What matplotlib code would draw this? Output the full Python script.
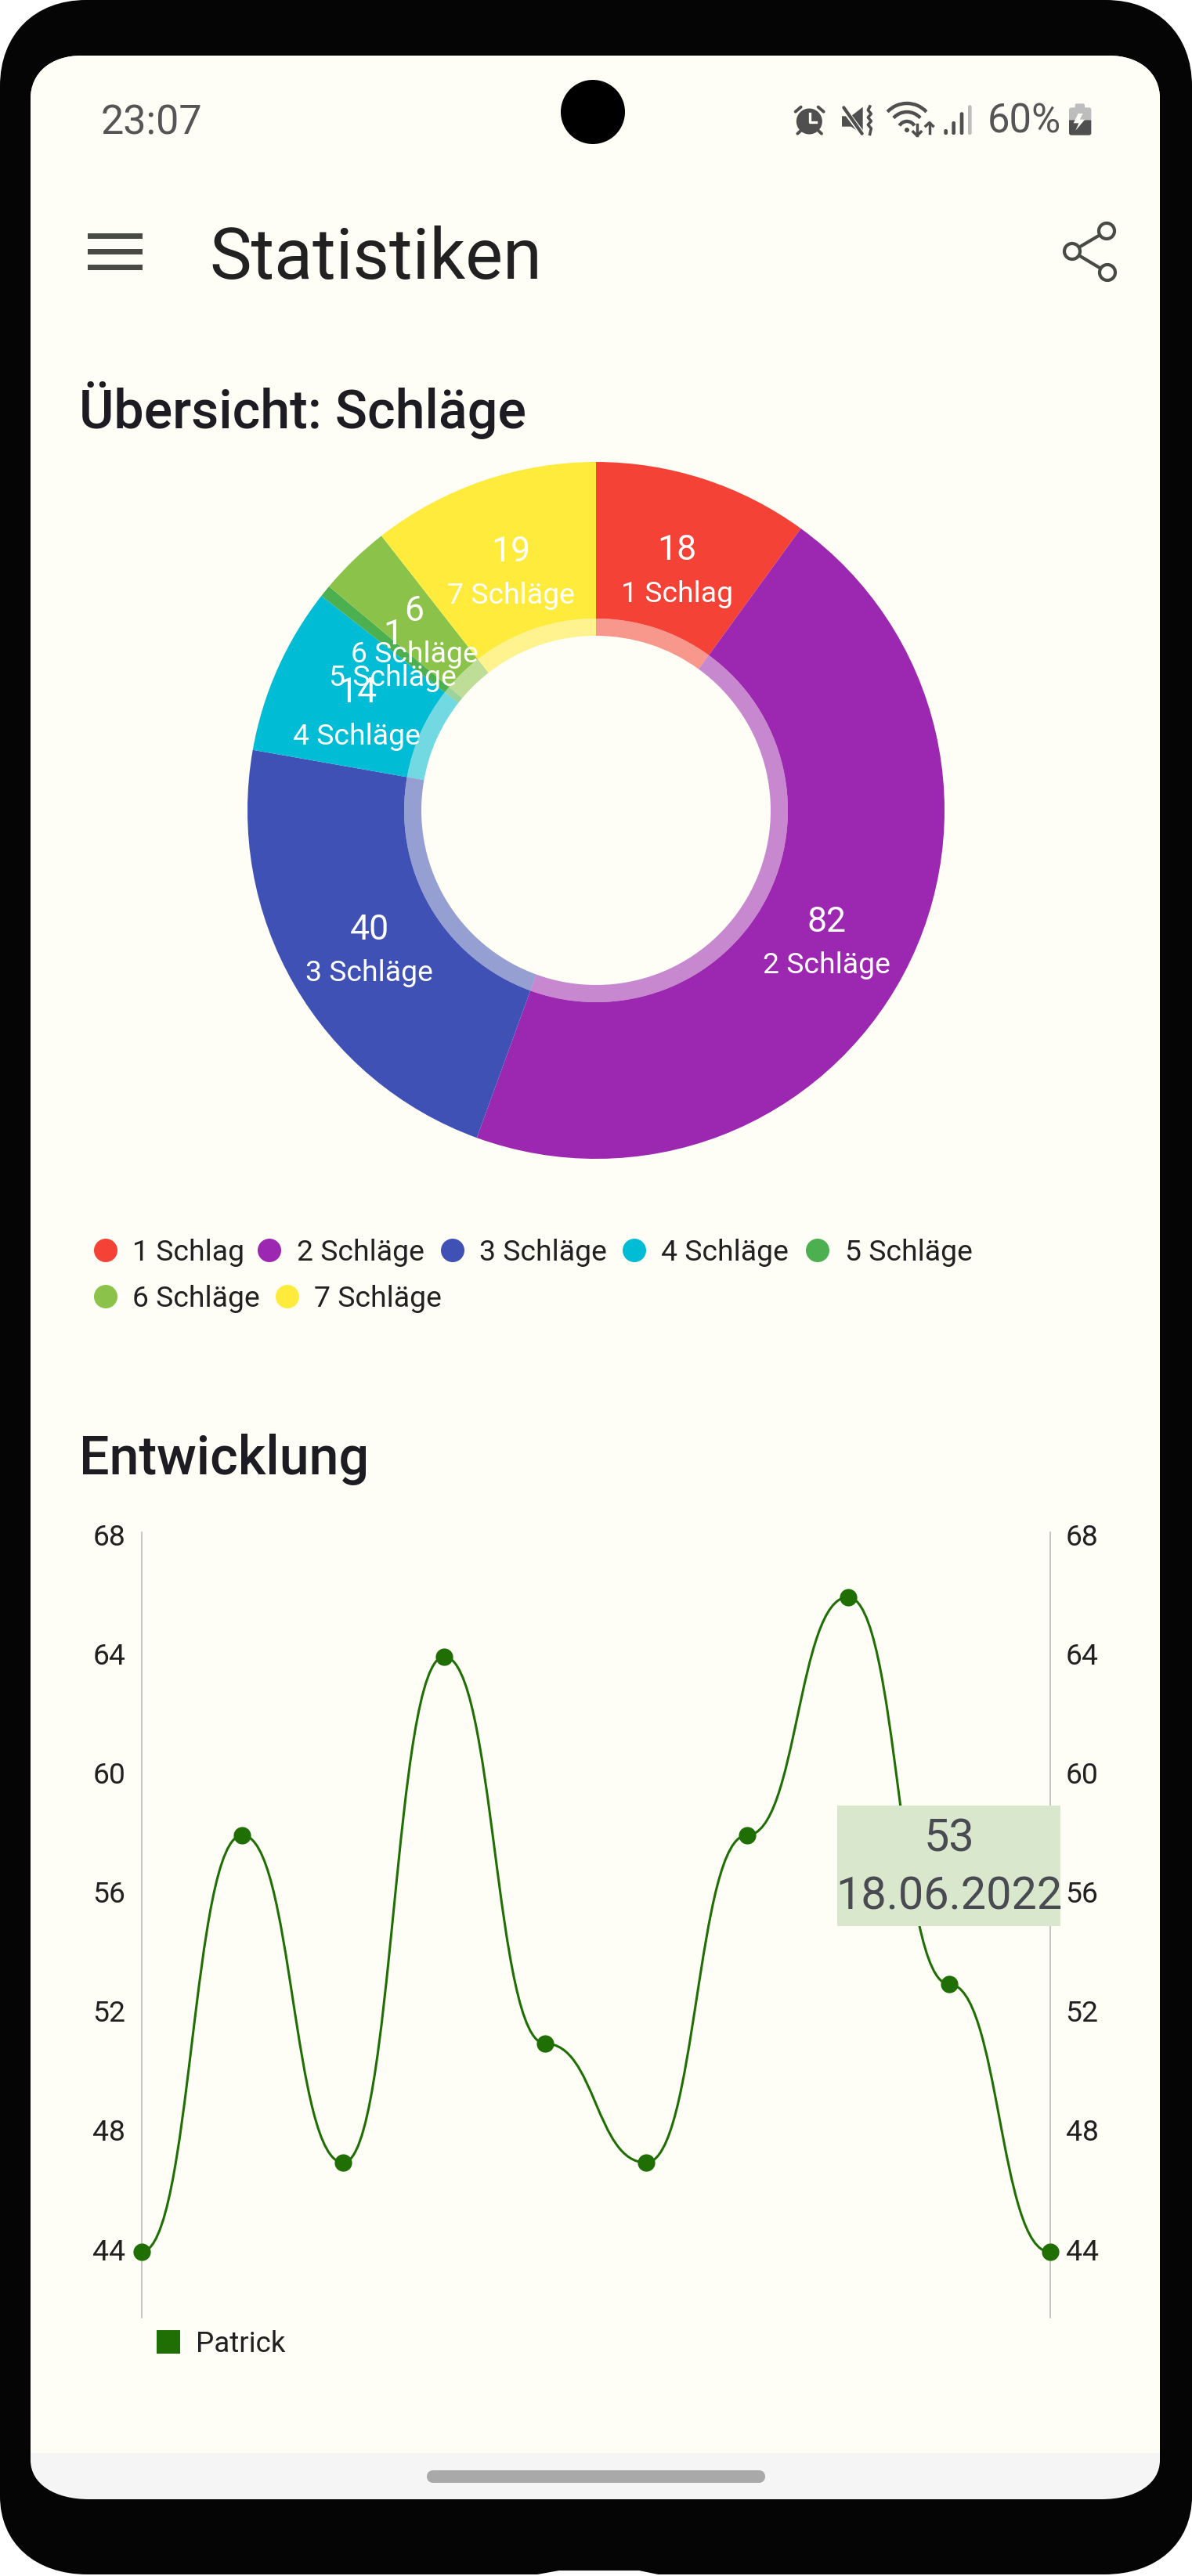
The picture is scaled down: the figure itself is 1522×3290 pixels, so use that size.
import numpy as np
import matplotlib
matplotlib.use("Agg")
import matplotlib.pyplot as plt
from matplotlib.path import Path
from matplotlib.patches import PathPatch, Rectangle, Circle, Polygon, Arc
from matplotlib.transforms import ScaledTranslation

W, H = 1522, 3290
plt.rcParams['font.family'] = ['Roboto', 'DejaVu Sans']

# pie data
labels = ["1 Schlag", "2 Schläge", "3 Schläge", "4 Schläge", "5 Schläge", "6 Schläge", "7 Schläge"]
counts = [18, 82, 40, 14, 1, 6, 19]
colors = ["#f44336", "#9c27b0", "#3f51b5", "#00bcd4", "#4caf50", "#8bc34a", "#ffeb3b"]

# line data
scores = [44, 58, 47, 64, 51, 47, 58, 66, 53, 44]
y_ticks = [44, 48, 52, 56, 60, 64, 68]
player = "Patrick"
line_color = "#1f6f05"

# tooltip
tip_index = 8
tip_date = "18.06.2022"

BG = "#fefef6"
DARK = "#212121"
ICON = "#4f4f4f"

fig = plt.figure(figsize=(W / 100, H / 100), dpi=100, facecolor="white")


def box(x0, y0, x1, y1):
    # pixel box (from top left) to figure fractions
    return [x0 / W, 1 - y1 / H, (x1 - x0) / W, (y1 - y0) / H]


def rrect(x0, y0, x1, y1, rtx, rty, rbx, rby, k=0.6):
    v = [(x0 + rtx, y0), (x1 - rtx, y0),
         (x1 - rtx * (1 - k), y0), (x1, y0 + rty * (1 - k)), (x1, y0 + rty),
         (x1, y1 - rby),
         (x1, y1 - rby * (1 - k)), (x1 - rbx * (1 - k), y1), (x1 - rbx, y1),
         (x0 + rbx, y1),
         (x0 + rbx * (1 - k), y1), (x0, y1 - rby * (1 - k)), (x0, y1 - rby),
         (x0, y0 + rty),
         (x0, y0 + rty * (1 - k)), (x0 + rtx * (1 - k), y0), (x0 + rtx, y0)]
    c = [Path.MOVETO, Path.LINETO, Path.CURVE4, Path.CURVE4, Path.CURVE4, Path.LINETO,
         Path.CURVE4, Path.CURVE4, Path.CURVE4, Path.LINETO,
         Path.CURVE4, Path.CURVE4, Path.CURVE4, Path.LINETO,
         Path.CURVE4, Path.CURVE4, Path.CURVE4]
    return Path(v, c)


# phone frame and everything that is not a chart, in pixels
px = fig.add_axes([0, 0, 1, 1], zorder=0)
px.set_xlim(0, W)
px.set_ylim(H, 0)
px.axis("off")

px.add_patch(PathPatch(rrect(0, 0, W, 3288, 110, 110, 112, 100), fc="#050505", ec="none"))
px.add_patch(Polygon([(675, 3290), (714, 3283), (816, 3283), (850, 3290)], fc="white", ec="none"))
px.add_patch(PathPatch(rrect(39, 71, 1481, 3192, 65, 55, 75, 50), fc="#f5f5f6", ec="none"))
px.add_patch(PathPatch(rrect(39, 71, 1481, 3133, 65, 55, 1, 1), fc=BG, ec="none"))
px.add_patch(PathPatch(rrect(545, 3155, 977, 3171, 8, 8, 8, 8), fc="#a9a9a9", ec="none"))
px.add_patch(Circle((757, 143), 41, fc="black", ec="none"))

# status bar
px.text(129, 172, "23:07", fontsize=37.5, color="#555555", va="baseline")
px.text(1261, 170, "60%", fontsize=36.5, color="#555555", va="baseline")


def z(x, y):
    # coordinates
    return 980 + x / 3, 100 + y / 3


# alarm
px.add_patch(Circle(z(160, 165), 16.5, fc=ICON, ec="none"))
for a, b in [((107, 128), (128, 110)), ((215, 128), (194, 110)), ((115, 212), (128, 200)), ((207, 212), (194, 200))]:
    px.plot(*zip(z(*a), z(*b)), color=ICON, lw=2.8, solid_capstyle="round")
px.plot(*zip(z(163, 135), z(163, 168), z(185, 168)), color=BG, lw=2.4)
# mute
px.add_patch(Polygon([z(*p) for p in [(285, 145), (320, 145), (365, 110), (365, 215), (320, 185), (285, 185)]], fc=ICON, ec="none"))
px.plot(*zip(z(283, 105), z(370, 222)), color=BG, lw=5)
px.plot(*zip(z(292, 112), z(362, 212)), color=ICON, lw=3, solid_capstyle="round")
wave_y = np.array([108, 122, 136, 150, 164, 178, 192, 214])
wave_x = np.array([392, 385, 397, 385, 397, 385, 397, 392])
px.plot(*z(wave_x, wave_y), color=ICON, lw=2.6)
# wifi
wx, wy = 1158, 166
for r, half in [(34, 47), (23, 48), (11, 60)]:
    px.add_patch(Arc((wx, wy), 2 * r, 2 * r, theta1=270 - half, theta2=270 + half, color=ICON, lw=3.2))
px.add_patch(Circle((wx, wy), 3, fc=ICON, ec="none"))
px.plot(*zip(z(573, 178), z(573, 218)), color=ICON, lw=2.5)
px.plot(*zip(z(558, 205), z(573, 220), z(588, 205)), color=ICON, lw=2.5)
px.plot(*zip(z(620, 170), z(620, 210)), color=ICON, lw=2.5)
px.plot(*zip(z(606, 183), z(620, 170), z(634, 183)), color=ICON, lw=2.5)
# signal
for x0, top, col in [(676, 195, ICON), (706, 165, ICON), (737, 130, ICON), (768, 103, "#bdbdbd")]:
    px.add_patch(PathPatch(rrect(*z(x0, top), *z(x0 + 14, 216), 2, 2, 2, 2), fc=col, ec="none"))
# battery
px.add_patch(PathPatch(rrect(*z(1178, 97), *z(1215, 125), 2, 2, 0.5, 0.5), fc="#bdbdbd", ec="none"))
px.add_patch(PathPatch(rrect(*z(1155, 112), *z(1240, 160), 3, 3, 0.5, 0.5), fc="#bdbdbd", ec="none"))
px.add_patch(PathPatch(rrect(*z(1155, 160), *z(1240, 218), 0.5, 0.5, 3, 3), fc=ICON, ec="none"))
px.add_patch(Polygon([z(*p) for p in [(1190, 135), (1172, 172), (1192, 172), (1180, 200), (1216, 158), (1196, 158), (1208, 135)]], fc=BG, ec="none"))

# app bar
for y in [301, 321, 341]:
    px.add_patch(Rectangle((112, y - 3.5), 70, 7, fc="#474b44", ec="none"))
share = [(1413, 295), (1369, 321), (1414, 348)]
px.plot([share[0][0], share[1][0], share[2][0]], [share[0][1], share[1][1], share[2][1]], color="#474b44", lw=3)
for c in share:
    px.add_patch(Circle(c, 10, fc=BG, ec="#474b44", lw=3, zorder=3))
px.text(267, 356, "Statistiken", fontsize=65, color=DARK, va="baseline")

# headings
px.text(101, 547, "Übersicht: Schläge", fontsize=49.1, fontweight="medium", color="#1c1c22", va="baseline")
px.text(101, 1883, "Entwicklung", fontsize=49.1, fontweight="medium", color="#1c1c22", va="baseline")

# pie legend, wrapped in two rows like the app does
legend_dot_x = [135, 344, 578, 810, 1044, 135, 367]
legend_txt_x = [169, 379, 612, 844, 1079, 169, 401]
legend_row_y = [1597, 1597, 1597, 1597, 1597, 1656, 1656]
for name, col, dx, tx, ry in zip(labels, colors, legend_dot_x, legend_txt_x, legend_row_y):
    px.add_patch(Circle((dx, ry), 15, fc=col, ec="none"))
    px.text(tx, ry + 13, name, fontsize=26.9, color=DARK, va="baseline")

# line legend
px.add_patch(Rectangle((200, 2976), 30, 30, fc=line_color, ec="none"))
px.text(250, 3004, player, fontsize=26.5, color=DARK, va="baseline")

# donut: outer radius 445 px, pale ring 245..223 px
R = 445.0
pad = 1.02
cx, cy = 761, 1035
ax = fig.add_axes(box(cx - R * pad, cy - R * pad, cx + R * pad, cy + R * pad), zorder=1)
ax.patch.set_alpha(0)
wedges, _ = ax.pie(counts, colors=colors, startangle=90, counterclock=False, radius=1,
                   wedgeprops=dict(width=1 - 245 / R, linewidth=0))
ax.pie(counts, colors=colors, startangle=90, counterclock=False, radius=245 / R,
       wedgeprops=dict(width=(245 - 223) / R, linewidth=0, alpha=0.55))
ax.set_xlim(-pad, pad)
ax.set_ylim(-pad, pad)
ax.set_aspect("equal")

mid_r = (445 + 223) / 2 / R
for w, n, name in zip(wedges, counts, labels):
    ang = np.deg2rad((w.theta1 + w.theta2) / 2)
    xy = (mid_r * np.cos(ang), mid_r * np.sin(ang))
    ax.annotate(str(n), xy, xytext=(0, 1.5), textcoords="offset points", ha="center", va="baseline",
                fontsize=32, color="white", zorder=5)
    ax.annotate(name, xy, xytext=(0, -37), textcoords="offset points", ha="center", va="baseline",
                fontsize=26.9, color="white", zorder=5)

# line chart
lx = fig.add_axes(box(180.5, 1957, 1340.5, 2960), zorder=2)
lx.patch.set_alpha(0)
x = np.arange(len(scores))
lx.set_xlim(0, len(scores) - 1)
lx.set_ylim(41.79, 68.18)

# horizontal bezier between the points
verts = [(x[0], scores[0])]
codes = [Path.MOVETO]
for i in range(1, len(scores)):
    mid = (x[i - 1] + x[i]) / 2
    verts += [(mid, scores[i - 1]), (mid, scores[i]), (x[i], scores[i])]
    codes += [Path.CURVE4] * 3
lx.add_patch(PathPatch(Path(verts, codes), fc="none", ec=line_color, lw=2.2, clip_on=False, zorder=3))
lx.plot(x, scores, ls="none", marker="o", ms=16, mfc=line_color, mec="none", clip_on=False, zorder=4)

lx.set_xticks([])
lx.set_yticks(y_ticks)
lx.tick_params(axis="y", length=0, pad=14.5, labelsize=26.9, labelcolor=DARK, labelleft=True, labelright=True)
# labels sit a bit above their value in the reference
up = ScaledTranslation(0, 0.035, fig.dpi_scale_trans)
for tick in lx.yaxis.get_major_ticks():
    tick.label1.set_transform(tick.label1.get_transform() + up)
    tick.label2.set_transform(tick.label2.get_transform() + up)
for s in ["top", "bottom"]:
    lx.spines[s].set_visible(False)
for s in ["left", "right"]:
    lx.spines[s].set_color("#bdbdbd")
    lx.spines[s].set_linewidth(1.2)

# tooltip, in data units round the selected point
tip_w = 2.21
lx.add_patch(Rectangle((x[tip_index] - tip_w / 2, 54.95), tip_w, 4.05, fc="#d9e7cd", ec="none", clip_on=False, zorder=6))
lx.text(x[tip_index], 57.87, str(scores[tip_index]), fontsize=41.5, color="#4a4a52", ha="center", va="center", zorder=7)
lx.text(x[tip_index], 55.93, tip_date, fontsize=41.5, color="#4a4a52", ha="center", va="center", zorder=7)

fig.savefig("out.png", dpi=100, facecolor="white")
